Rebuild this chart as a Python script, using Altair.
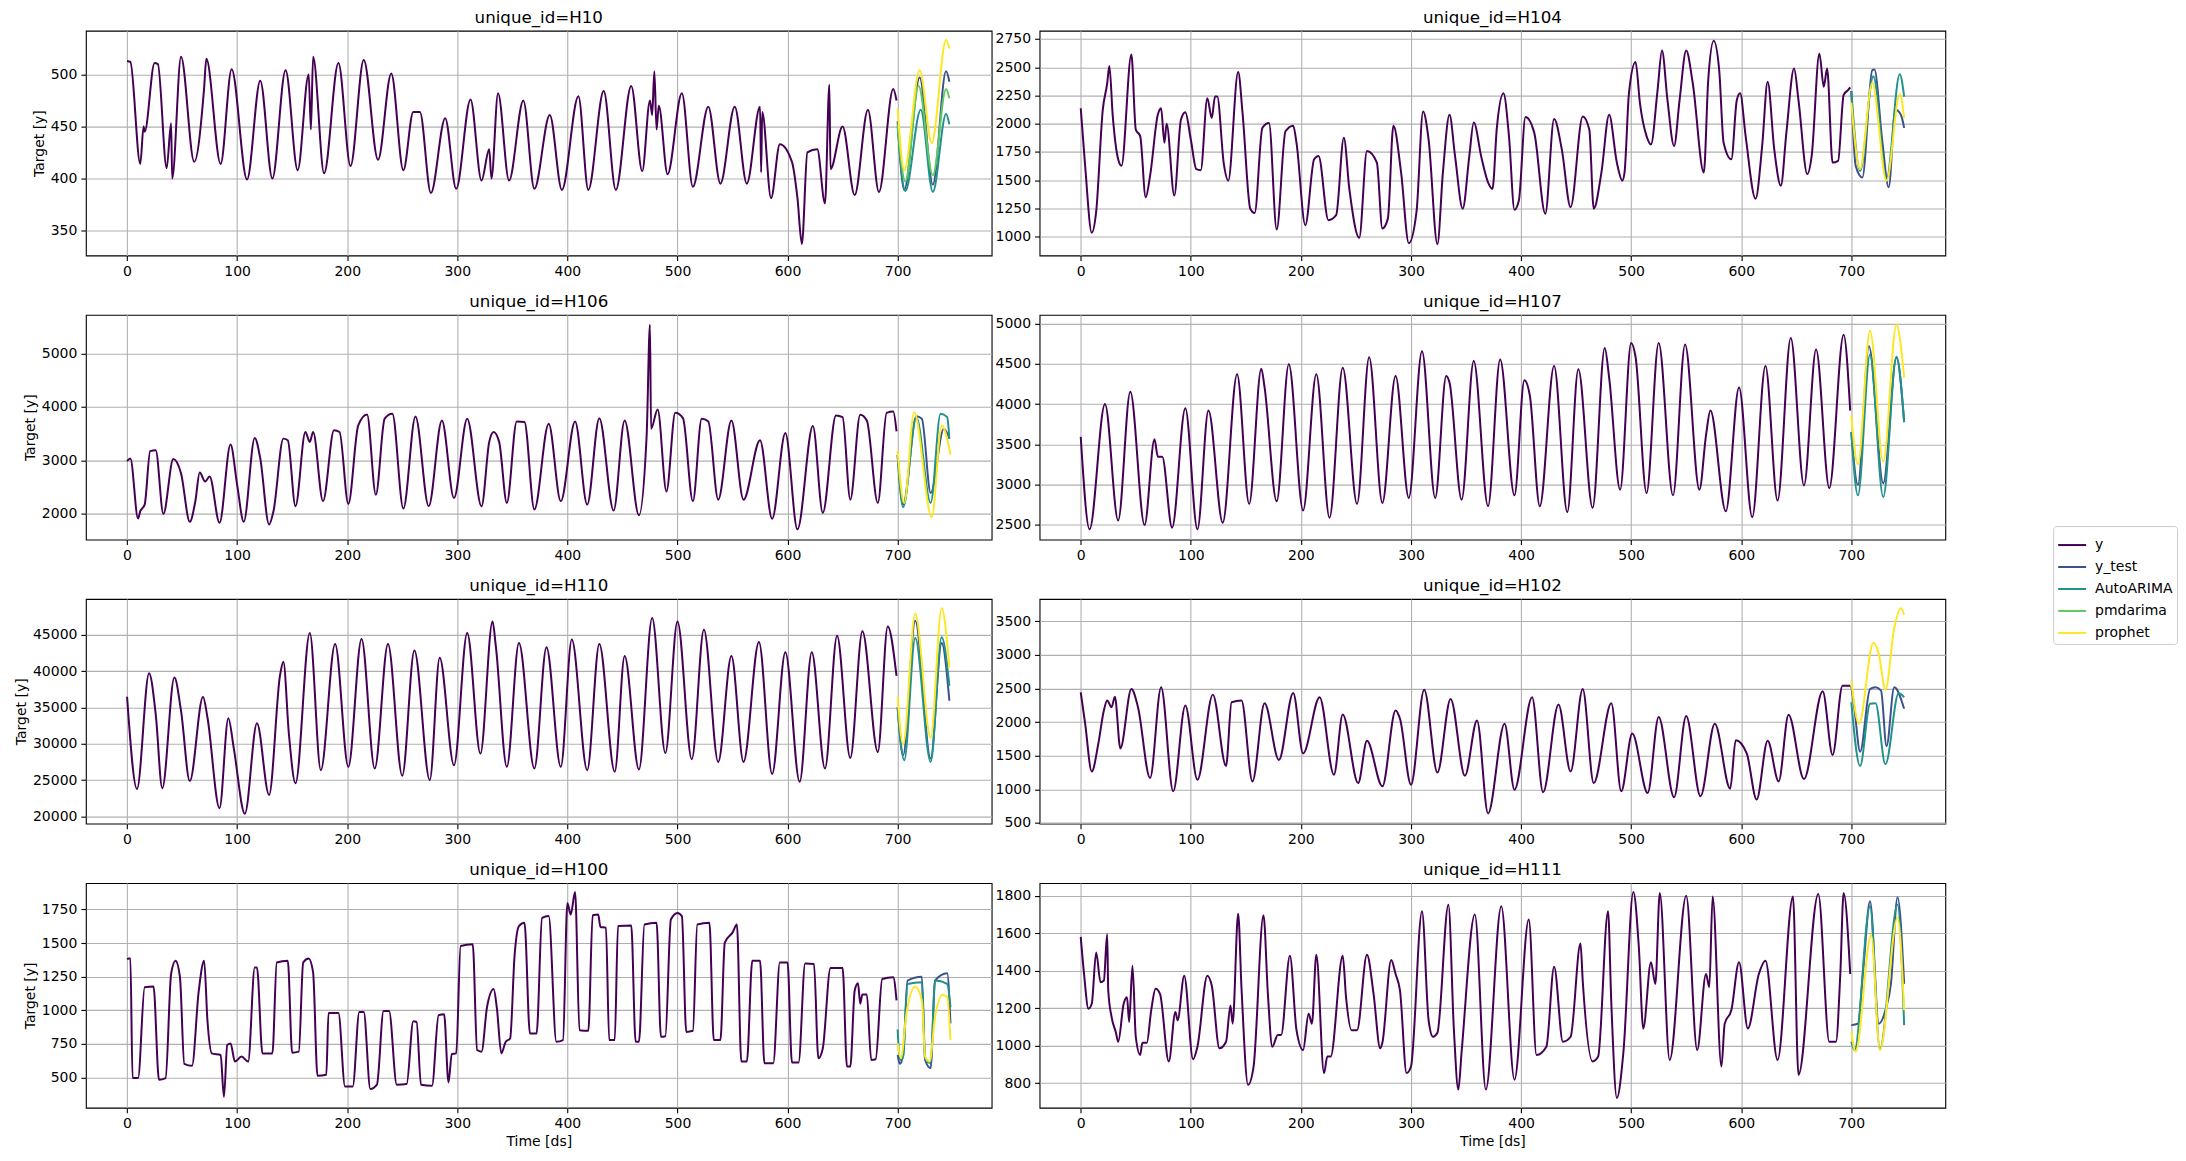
import altair as alt
import pandas as pd

MODELS = ["y", "y_test", "AutoARIMA", "pmdarima", "prophet"]
COLORS = ["#440154", "#3b528b", "#21918c", "#5ec962", "#fde725"]
PANELS = ["H10", "H104", "H106", "H107", "H110", "H102", "H100", "H111"]
X_TICKS = [0, 100, 200, 300, 400, 500, 600, 700]
X_DOMAIN = [-37.4, 785.4]

Y_TICKS = {
    "H10": [350, 400, 450, 500],
    "H104": [1000, 1250, 1500, 1750, 2000, 2250, 2500, 2750],
    "H106": [2000, 3000, 4000, 5000],
    "H107": [2500, 3000, 3500, 4000, 4500, 5000],
    "H110": [20000, 25000, 30000, 35000, 40000, 45000],
    "H102": [500, 1000, 1500, 2000, 2500, 3000, 3500],
    "H100": [500, 750, 1000, 1250, 1500, 1750],
    "H111": [800, 1000, 1200, 1400, 1600, 1800],
}
Y_DOMAIN = {
    "H10": [326, 542], "H104": [834, 2823], "H106": [1519, 5722], "H107": [2315, 5111],
    "H110": [19000, 49960], "H102": [490, 3828], "H100": [274, 1947], "H111": [668, 1867],
}

# ---- H10 (ds, value) ----
H10_y = [(0,513),(3,512),(12,414),(15,450),(16,445),(25,511),(28,510),(36,410),(40,453),(41,400),(49,517),(61,416),(70,487),(72,515),(85,414),(95,505),(109,399),(121,494),(132,400),(144,504),(155,408),(165,500),(167,447),(169,517),(179,405),(192,511),(203,412),(215,514),(228,418),(240,501),(251,408),(260,464),(266,464),(276,386),(289,458),(299,390),(312,476),(322,398),(329,428),(331,400),(337,482),(347,398),(360,475),(370,390),(384,461),(395,389),(410,479),(419,389),(433,484),(444,389),(458,489),(468,407),(475,475),(477,461),(479,503),(481,447),(483,470),(491,404),(504,482),(514,392),(528,469),(539,395),(552,469),(563,395),(575,469),(576,406),(577,464),(585,381),(593,433),(604,416),(609,381),(613,337),(618,425),(627,428),(634,376),(638,490),(639,409),(650,450),(661,384),(673,466),(683,387),(696,486),(699,475)]
H10_y_test = [(700,455),(706,389),(720,497),(732,394),(744,503),(747,493)]
H10_autoarima = [(700,450),(707,388),(721,466),(732,387),(744,462),(747,452)]
H10_pmdarima = [(700,452),(707,397),(719,489),(732,403),(744,486),(747,477)]
H10_prophet = [(700,467),(706,408),(720,504),(731,434),(744,533),(747,525)]

# ---- H104 ----
H104_y = [(0,2137),(4,1627),(10,1035),(14,1219),(20,2123),(24,2356),(26,2511),(29,2079),(34,1685),(37,1627),(46,2613),(50,1948),(54,1890),(59,1350),(63,1540),(70,2079),(73,2137),(76,1831),(78,2000),(85,1364),(91,2035),(95,2102),(100,1860),(105,1598),(109,1589),(115,2225),(119,2050),(122,2240),(124,2240),(130,1642),(134,1496),(143,2458),(147,2094),(154,1248),(158,1210),(165,1963),(171,2006),(178,1064),(186,1933),(193,1983),(196,1831),(204,1102),(212,1685),(216,1715),(225,1146),(232,1190),(239,1875),(244,1423),(253,991),(260,1758),(269,1656),(274,1073),(279,1160),(284,1983),(291,1569),(298,942),(305,1219),(311,2108),(316,1860),(324,933),(329,1569),(335,2079),(340,1715),(347,1248),(353,1715),(357,2012),(364,1700),(370,1481),(374,1423),(378,1963),(384,2269),(389,1890),(394,1239),(398,1321),(404,2059),(412,1919),(422,1204),(430,2041),(437,1773),(445,1262),(456,2065),(462,1948),(466,1248),(473,1569),(480,2079),(487,1656),(492,1496),(494,1569),(498,2269),(504,2546),(508,2181),(514,1890),(518,1817),(524,2298),(528,2648),(533,2210),(539,1802),(544,2210),(550,2648),(556,2356),(566,1569),(570,2385),(575,2735),(580,2473),(584,1831),(591,1685),(596,2210),(599,2269),(604,1890),(613,1335),(619,1802),(624,2371),(630,1773),(636,1452),(641,1919),(648,2488),(652,2210),(660,1554),(664,1715),(671,2619),(675,2327),(678,2488),(683,1656),(688,1671),(693,2254),(697,2298),(699,2321)]
H104_y_test = [(700,2290),(704,1627),(710,1525),(719,2473),(721,2481),(728,1860),(734,1437),(740,2123),(745,2079),(748,1963)]
H104_autoarima = [(700,2290),(708,1583),(720,2420),(732,1510),(744,2438),(748,2240)]
H104_prophet = [(700,2187),(708,1598),(719,2362),(732,1496),(744,2260),(748,2050)]

# ---- H106 ----
H106_y = [(0,2988),(3,3037),(10,1914),(12,2049),(16,2173),(21,3173),(26,3191),(33,2000),(42,3025),(49,2759),(57,1852),(62,2235),(66,2772),(71,2605),(75,2697),(84,1833),(94,3296),(100,2543),(106,1852),(116,3420),(121,3037),(129,1802),(133,2049),(142,3407),(146,3376),(153,2142),(162,3531),(166,3346),(169,3531),(178,2235),(188,3562),(193,3531),(201,2185),(210,3654),(218,3858),(226,2358),(234,3780),(241,3870),(251,2099),(262,3821),(274,2142),(286,3747),(297,2296),(309,3778),(322,2142),(329,3346),(333,3531),(338,3346),(345,2204),(354,3728),(361,3716),(370,2080),(383,3685),(394,2235),(407,3728),(418,2173),(429,3790),(442,2062),(452,3747),(465,1975),(472,3469),(475,5537),(476,3593),(482,3951),(490,2420),(498,3889),(505,3790),(514,2235),(522,3778),(528,3728),(537,2265),(549,3747),(560,2265),(575,3377),(586,1907),(598,3512),(609,1710),(623,3642),(632,2019),(644,3840),(650,3809),(657,2265),(666,3852),(672,3747),(682,2204),(690,3889),(696,3914),(699,3543)]
H106_y_test = [(700,3100),(705,2173),(717,3827),(722,3778),(730,2389),(742,3593),(747,3407)]
H106_autoarima = [(700,3100),(705,2123),(717,3809),(730,2204),(739,3870),(745,3809),(747,3407)]
H106_prophet = [(700,3179),(706,2204),(715,3901),(731,1938),(740,3654),(748,3111)]

# ---- H107 ----
H107_y = [(0,3592),(8,2443),(22,4002),(34,2553),(45,4154),(58,2496),(67,3563),(70,3346),(74,3346),(83,2463),(95,3949),(106,2443),(116,3920),(129,2525),(142,4372),(153,2759),(164,4442),(167,4208),(178,2791),(189,4495),(202,2677),(214,4372),(226,2586),(238,4454),(251,2759),(262,4585),(274,2771),(286,4351),(298,2833),(310,4659),(322,2833),(332,4351),(335,4269),(346,2812),(357,4536),(370,2730),(381,4557),(394,2865),(403,4298),(408,4105),(417,2730),(430,4475),(442,2656),(452,4434),(465,2710),(476,4700),(480,4331),(490,2935),(500,4762),(504,4590),(514,2894),(525,4762),(538,2865),(549,4741),(562,2935),(568,3612),(572,3920),(586,2668),(598,4208),(610,2594),(622,4475),(633,2800),(645,4823),(657,2989),(668,4680),(680,2956),(693,4865),(699,3920)]
H107_y_test = [(700,3650),(706,2997),(716,4721),(729,3017),(741,4577),(748,3777)]
H107_autoarima = [(700,3650),(706,2865),(717,4618),(729,2845),(741,4590),(748,3777)]
H107_prophet = [(700,3859),(706,3251),(717,4914),(729,3284),(741,4988),(748,4331)]

# ---- H110 ----
H110_y = [(0,36484),(9,23778),(20,39717),(26,34116),(32,23869),(43,39125),(49,34571),(57,24871),(69,36484),(73,33661),(84,21138),(92,33524),(97,29334),(107,20363),(118,32841),(129,22959),(139,39500),(142,41311),(147,31384),(153,24553),(166,45273),(176,26374),(189,43770),(201,26830),(213,44454),(225,26602),(237,43770),(250,25600),(261,42860),(275,25008),(284,41858),(297,27057),(309,45273),(321,28651),(332,46867),(335,43452),(345,26830),(356,43907),(370,26602),(381,43315),(394,26830),(404,44362),(418,26374),(429,43770),(443,26147),(452,42086),(465,26465),(477,47322),(489,28742),(500,46867),(513,27877),(524,45729),(537,27513),(549,42086),(560,27513),(574,44044),(586,25828),(598,42632),(611,24781),(622,42632),(634,26602),(645,44909),(657,28059),(668,45501),(682,28879),(691,46184),(699,39353)]
H110_y_test = [(700,35000),(705,28424),(716,46958),(730,27968),(740,43907),(747,35938)]
H110_autoarima = [(700,35000),(706,27741),(716,44590),(730,27513),(740,44681),(747,37987)]
H110_prophet = [(700,36484),(705,29926),(716,47915),(730,30837),(740,48689),(747,40492)]

# ---- H102 ----
H102_y = [(0,2441),(4,1975),(10,1265),(16,1681),(21,2172),(24,2319),(28,2221),(31,2377),(36,1608),(46,2490),(52,2221),(63,1167),(73,2515),(84,971),(95,2245),(106,1142),(120,2407),(132,1348),(137,2294),(146,2319),(156,1118),(167,2279),(180,1436),(193,2431),(202,1534),(217,2368),(230,1216),(238,2113),(252,1093),(260,1721),(274,1044),(286,2172),(290,2049),(300,1069),(312,2480),(324,1250),(336,2343),(349,1201),(360,2024),(370,642),(385,1975),(394,995),(410,2368),(420,956),(434,2260),(445,1265),(456,2490),(466,1093),(482,2279),(491,971),(501,1828),(515,946),(525,2074),(539,882),(550,2088),(563,897),(576,1975),(590,1010),(595,1730),(605,1534),(614,848),(624,1721),(634,1118),(643,2108),(657,1152),(674,2456),(683,1510),(692,2539),(699,2539)]
H102_y_test = [(700,2539),(703,2172),(708,1559),(717,2490),(722,2515),(727,2466),(732,1642),(739,2515),(748,2196)]
H102_autoarima = [(700,2294),(708,1348),(717,2270),(722,2279),(731,1372),(743,2426),(748,2368)]
H102_prophet = [(700,2613),(707,1975),(720,3176),(725,3005),(731,2480),(739,3397),(745,3691),(748,3593)]

# ---- H100 ----
H100_y = [(0,1381),(3,1388),(5,495),(10,495),(16,1172),(24,1177),(29,483),(35,495),(40,1270),(44,1369),(48,1250),(52,601),(59,586),(65,1135),(70,1369),(73,926),(77,679),(85,667),(88,355),(91,741),(94,753),(98,618),(104,655),(110,618),(116,1319),(118,1319),(123,679),(132,679),(136,1356),(146,1369),(150,684),(156,692),(160,1356),(165,1386),(169,1282),(173,512),(181,520),(183,980),(192,980),(198,433),(205,433),(211,987),(215,987),(221,414),(227,446),(233,994),(238,994),(245,446),(254,451),(260,918),(263,913),(267,446),(277,438),(283,963),(288,970),(292,463),(295,675),(299,679),(303,1479),(314,1492),(318,704),(322,692),(327,1024),(333,1159),(336,1012),(340,679),(344,766),(348,790),(352,1405),(356,1627),(361,1652),(366,827),(372,827),(377,1688),(383,1701),(390,766),(396,778),(400,1799),(403,1713),(407,1880),(411,852),(419,847),(423,1708),(428,1713),(430,1620),(435,1615),(438,778),(443,778),(446,1627),(458,1632),(462,766),(465,766),(470,1639),(481,1652),(485,803),(489,807),(494,1676),(500,1725),(504,1701),(508,839),(514,847),(518,1639),(529,1652),(533,778),(539,778),(543,1504),(550,1578),(554,1639),(558,618),(563,618),(568,1369),(575,1369),(579,606),(587,606),(593,1356),(600,1356),(604,611),(610,611),(616,1349),(624,1344),(628,643),(632,716),(639,1314),(650,1314),(654,581),(657,581),(661,1147),(664,1201),(666,1049),(668,1118),(672,1118),(676,630),(680,635),(686,1233),(696,1246),(699,1073)]
H100_y_test = [(700,667),(702,601),(705,667),(709,1221),(722,1250),(725,630),(730,569),(734,1221),(745,1275),(748,901)]
H100_autoarima = [(700,857),(702,630),(705,655),(709,1196),(722,1209),(725,630),(730,606),(734,1221),(745,1196),(748,1024)]
H100_prophet = [(700,753),(703,643),(708,975),(716,1177),(722,1073),(725,655),(729,618),(734,950),(741,1115),(745,1098),(748,778)]

# ---- H111 ----
H111_y = [(0,1580),(3,1382),(7,1197),(10,1223),(14,1497),(18,1338),(21,1347),(24,1594),(25,1294),(28,1153),(32,1068),(34,1020),(39,1223),(42,1258),(44,1126),(47,1426),(50,1047),(54,950),(56,1015),(60,1015),(64,1188),(68,1303),(72,1276),(80,915),(86,1179),(88,1135),(94,1373),(102,927),(106,994),(115,1373),(119,1320),(126,985),(132,1020),(136,1214),(138,1117),(143,1703),(146,1311),(152,791),(157,888),(166,1696),(170,1276),(174,994),(179,1056),(182,1056),(190,1479),(196,1082),(202,976),(207,1170),(210,1117),(214,1484),(221,853),(224,941),(227,941),(238,1479),(241,1258),(246,1082),(251,1082),(260,1484),(266,1276),(272,985),(274,1015),(282,1456),(286,1382),(290,1294),(296,853),(300,888),(310,1717),(316,1135),(320,1047),(324,1068),(334,1752),(339,1082),(343,765),(346,967),(358,1699),(368,765),(382,1744),(394,818),(407,1673),(414,950),(423,994),(430,1421),(438,1020),(445,1047),(454,1544),(456,1347),(465,915),(470,941),(479,1717),(482,1223),(487,720),(493,967),(502,1820),(507,1523),(511,1091),(518,1444),(522,1329),(526,1814),(535,923),(550,1800),(560,976),(568,1382),(571,1311),(574,1796),(582,888),(585,1117),(591,1188),(598,1444),(606,1091),(616,1382),(622,1453),(633,923),(647,1796),(652,844),(670,1809),(680,1020),(686,1020),(690,1382),(693,1814),(699,1382)]
H111_y_test = [(700,1109),(706,1117),(711,1417),(717,1770),(725,1117),(731,1188),(736,1329),(742,1791),(748,1329)]
H111_autoarima = [(700,1020),(703,976),(717,1744),(726,980),(742,1752),(748,1109)]
H111_prophet = [(700,1073),(704,967),(718,1590),(726,976),(742,1682),(748,1188)]

SERIES = {
    "H10": {"y": H10_y, "y_test": H10_y_test, "AutoARIMA": H10_autoarima, "pmdarima": H10_pmdarima, "prophet": H10_prophet},
    "H104": {"y": H104_y, "y_test": H104_y_test, "AutoARIMA": H104_autoarima, "prophet": H104_prophet},
    "H106": {"y": H106_y, "y_test": H106_y_test, "AutoARIMA": H106_autoarima, "prophet": H106_prophet},
    "H107": {"y": H107_y, "y_test": H107_y_test, "AutoARIMA": H107_autoarima, "prophet": H107_prophet},
    "H110": {"y": H110_y, "y_test": H110_y_test, "AutoARIMA": H110_autoarima, "prophet": H110_prophet},
    "H102": {"y": H102_y, "y_test": H102_y_test, "AutoARIMA": H102_autoarima, "prophet": H102_prophet},
    "H100": {"y": H100_y, "y_test": H100_y_test, "AutoARIMA": H100_autoarima, "prophet": H100_prophet},
    "H111": {"y": H111_y, "y_test": H111_y_test, "AutoARIMA": H111_autoarima, "prophet": H111_prophet},
}

FONT = "DejaVu Sans"
PW, PH = 907, 225
LEGEND_X, LEGEND_Y = 1970, 496


def panel(i, uid):
    left = i % 2 == 0
    bottom = i >= 6
    layers = []
    for m in MODELS:
        pts = SERIES[uid].get(m)
        if not pts:
            continue
        df = pd.DataFrame(pts, columns=["ds", "value"])
        df["model"] = m
        xax = alt.Axis(values=X_TICKS, format="d", title="Time [ds]") if bottom else alt.Axis(values=X_TICKS, format="d", title=None)
        yax = alt.Axis(values=Y_TICKS[uid], format="d", title="Target [y]") if left else alt.Axis(values=Y_TICKS[uid], format="d", title=None)
        layers.append(
            alt.Chart(df).mark_line(strokeWidth=2, interpolate="monotone", clip=True).encode(
                x=alt.X("ds:Q", scale=alt.Scale(domain=X_DOMAIN, nice=False, zero=False), axis=xax),
                y=alt.Y("value:Q", scale=alt.Scale(domain=Y_DOMAIN[uid], nice=False, zero=False), axis=yax),
                color=alt.Color(
                    "model:N",
                    scale=alt.Scale(domain=MODELS, range=COLORS),
                    legend=alt.Legend(
                        title=None, orient="none", legendX=LEGEND_X, legendY=LEGEND_Y,
                        symbolType="stroke", symbolSize=784, symbolStrokeWidth=2,
                        labelFontSize=14, labelFont=FONT, labelColor="black", labelOffset=8,
                        strokeColor="#cccccc", fillColor="white", padding=4, cornerRadius=3,
                        rowPadding=-5,
                    ),
                ),
            )
        )
    return alt.layer(*layers).properties(width=PW, height=PH, title=f"unique_id={uid}")


charts = [panel(i, uid) for i, uid in enumerate(PANELS)]
chart = alt.concat(*charts, columns=2, spacing={"row": 13.5, "column": 1}).properties(
    padding={"left": 5, "top": 0, "right": 0, "bottom": 0}
).configure_view(stroke="black", strokeWidth=1.1).configure_axis(
    domain=False, grid=True, gridColor="#b0b0b0", gridWidth=1.1,
    tickColor="black", tickSize=5, tickWidth=1.1,
    labelFont=FONT, labelFontSize=14, labelColor="black", labelPadding=4,
    titleFont=FONT, titleFontSize=14, titleFontWeight="normal", titleColor="black",
).configure_title(
    font=FONT, fontSize=16.7, fontWeight="normal", color="black", offset=4, anchor="middle"
)

chart.save("out.html", embed_options={"renderer": "svg", "actions": False})
